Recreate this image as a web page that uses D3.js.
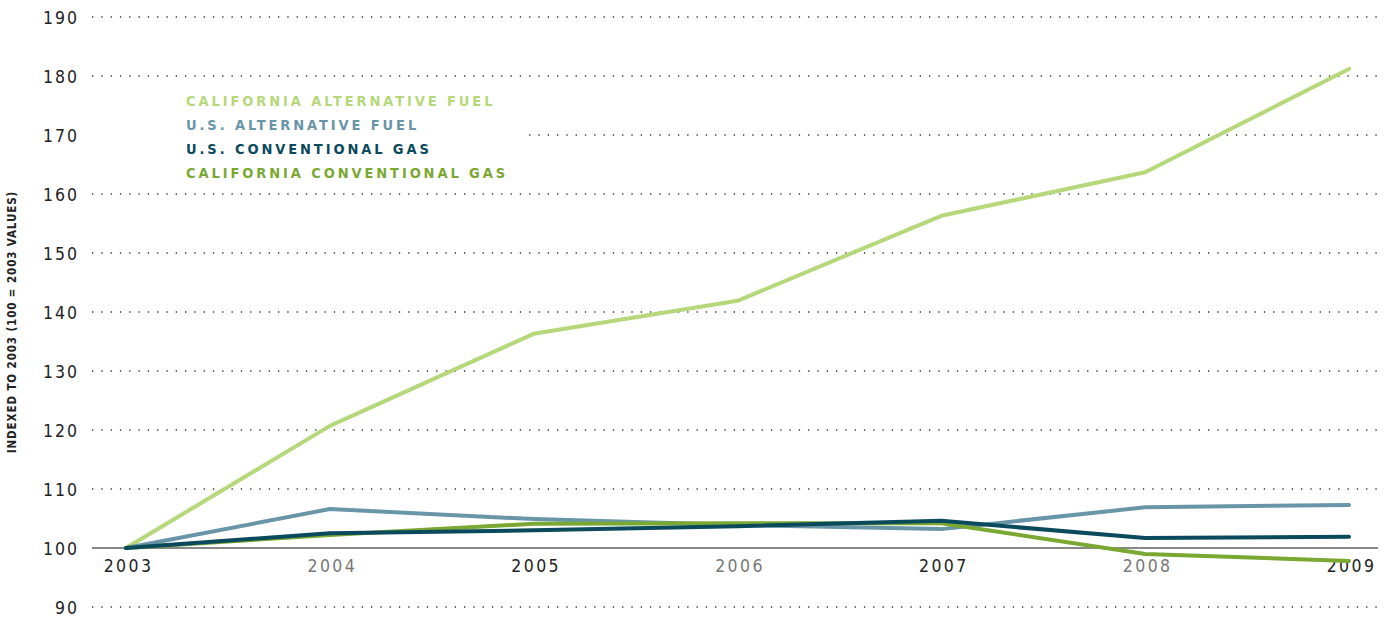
<!DOCTYPE html>
<html>
<head>
<meta charset="utf-8">
<script src="https://cdn.jsdelivr.net/npm/d3@7"></script>
<style>
  body { margin: 0; background: #fff; }
  text { font-family: "DejaVu Sans Condensed", "DejaVu Sans", sans-serif; }
</style>
</head>
<body>
<div id="chart"></div>
<script>
// data (index, 2003 = 100)
var years = [2003, 2004, 2005, 2006, 2007, 2008, 2009];
var caAltFuel = [100, 120.7, 136.3, 141.9, 156.3, 163.7, 181.2];
var usAltFuel = [100, 106.6, 104.9, 103.9, 103.2, 106.9, 107.3];
var usConvGas = [100, 102.5, 103.0, 103.7, 104.6, 101.7, 101.9];
var caConvGas = [100, 102.2, 104.1, 104.2, 104.2, 99.0, 97.8];
var yTicks = [90, 100, 110, 120, 130, 140, 150, 160, 170, 180, 190];

var seriesNames = ["CALIFORNIA ALTERNATIVE FUEL", "U.S. ALTERNATIVE FUEL", "U.S. CONVENTIONAL GAS", "CALIFORNIA CONVENTIONAL GAS"];
var seriesColors = ["#b6d77a", "#6995a8", "#0a4a5c", "#7aa832"];
var seriesValues = [caAltFuel, usAltFuel, usConvGas, caConvGas];

var W = 1395, H = 620;
var margin = {top: 17, right: 17, bottom: 13, left: 92};
var width = W - margin.left - margin.right,
    height = H - margin.top - margin.bottom;

var svg = d3.select("#chart").append("svg")
    .attr("width", W)
    .attr("height", H)
  .append("g")
    .attr("transform", "translate(" + margin.left + "," + margin.top + ")");

var x = d3.scaleLinear().domain([2003, 2009]).range([34, 1257]);
var y = d3.scaleLinear().domain([90, 190]).range([height, 0]);

// dotted grid lines
svg.append("g").selectAll("line")
  .data(yTicks.filter(function(d){ return d != 100; }))
  .enter().append("line")
    .attr("x1", 0)
    .attr("x2", width)
    .attr("y1", function(d){ return y(d); })
    .attr("y2", function(d){ return y(d); })
    .style("stroke", "#333")
    .style("stroke-width", 1.3)
    .style("stroke-dasharray", "1.3 8")

// base line at 100
svg.append("line")
  .attr("x1", 0).attr("x2", width)
  .attr("y1", y(100)).attr("y2", y(100))
  .style("stroke", "#888")
  .style("stroke-width", 2);

// y axis labels
svg.append("g")
  .attr("transform", "translate(-13,0)")
  .call(d3.axisLeft(y).tickValues(yTicks).tickSize(0).tickPadding(0))
  .call(function(g){ g.select(".domain").remove(); })
  .selectAll("text")
    .style("font-size", "17.5px")
    .style("letter-spacing", "2px")
    .style("fill", "#222")
    .attr("dy", "0.36em");

// x axis labels, alternate dark / grey
svg.append("g")
  .attr("transform", "translate(2," + (y(100) + 12) + ")")
  .call(d3.axisBottom(x).tickValues(years).tickFormat(d3.format("d")).tickSize(0).tickPadding(0))
  .call(function(g){ g.select(".domain").remove(); })
  .selectAll("text")
    .style("font-size", "17.5px")
    .style("letter-spacing", "2.4px")
    .style("fill", function(d, i){ return i % 2 ? "#777" : "#222"; });

// lines
var line = d3.line()
  .x(function(d, i){ return x(years[i]); })
  .y(function(d){ return y(d); });

var order = [0, 1, 3, 2];
svg.selectAll(".series")
  .data(order)
  .enter().append("path")
    .attr("class", "series")
    .attr("d", function(k){ return line(seriesValues[k]); })
    .style("fill", "none")
    .style("stroke", function(k){ return seriesColors[k]; })
    .style("stroke-width", 4)
    .style("stroke-linecap", "round")
    .style("stroke-linejoin", "round");

// legend, white box hides the grid behind it
svg.append("rect")
  .attr("x", -2).attr("y", 68)
  .attr("width", 436).attr("height", 100)
  .style("fill", "#fff");

svg.append("g").selectAll("text")
  .data(seriesNames)
  .enter().append("text")
    .attr("x", 94)
    .attr("y", function(d, i){ return 89 + i * 24; })
    .style("font-size", "14.5px")
    .style("font-weight", "bold")
    .style("letter-spacing", "2.9px")
    .style("fill", function(d, i){ return seriesColors[i]; })
    .text(function(d){ return d; });

// y axis title
svg.append("text")
  .attr("transform", "translate(-76," + (y(140) + 10) + ") rotate(-90)")
  .attr("text-anchor", "middle")
  .style("font-size", "11.5px")
  .style("font-weight", "bold")
  .style("letter-spacing", "0.9px")
  .style("fill", "#222")
  .text("INDEXED TO 2003 (100 = 2003 VALUES)");
</script>
</body>
</html>
